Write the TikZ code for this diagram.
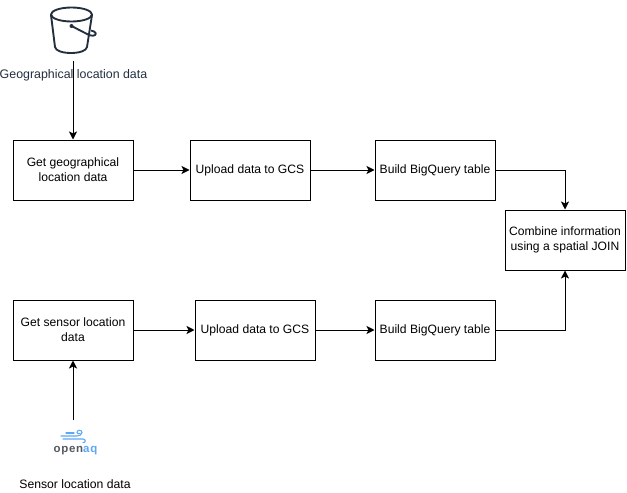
\documentclass[tikz,border=0pt]{standalone}
\usepackage{fontspec}
\setmainfont{Liberation Sans}
\usetikzlibrary{arrows.meta}
\definecolor{bucketcol}{HTML}{232F3E}
\definecolor{aqblue}{HTML}{5CA8F5}
\definecolor{opengrey}{HTML}{55595E}
\begin{document}
\begin{tikzpicture}[x=.75pt,y=-.75pt,line width=.75pt,
	box/.style={draw,minimum width=90pt,minimum height=45pt,inner sep=1pt,align=center,font=\fontsize{9.1}{11.25}\selectfont},
	lab/.style={inner sep=0pt,font=\fontsize{9.15}{11}\selectfont},
	flow/.style={-{Stealth[length=6pt,width=6pt,inset=1.5pt]}},
	pail/.style={bucketcol,line width=1.4pt,line join=round},
	wind/.style={aqblue,line width=.8pt,line cap=round}]
		\useasboundingbox (0,0) rectangle (627,492);
		\node [box] (geoget) at (73,170) {Get geographical\\location data};
		\node [box] (geoup) at (250,170) {Upload data to GCS};
		\node [box] (geobq) at (435,170) {Build BigQuery table};
		\node [box] (join) at (565,240) {Combine information\\using a spatial JOIN};
		\node [box] (senget) at (73,330) {Get sensor location\\data};
		\node [box] (senup) at (255,330) {Upload data to GCS};
		\node [box] (senbq) at (435,330) {Build BigQuery table};
		\node [lab,text=bucketcol,font=\fontsize{9.3}{11}\selectfont] (geolab) at (73.5,75) {Geographical location data};
		\node [lab] (senlab) at (75,484) {Sensor location data};
		\coordinate (geosrc) at (73,61);
		\coordinate (sensrc) at (73,420);
		% bucket
		\draw [pail] (71.5,14.5) ellipse (20.5 and 7);
		\draw [pail] (51,15) -- (55,47) .. controls (56,55) and (86,55) .. (87,47) -- (92,15);
		\draw [pail] (71.5,26) -- (89,35) .. controls (95,37.5) and (98,33.5) .. (94,31.5) -- (91,30.5);
		\fill [bucketcol] (71.5,26) circle (2);
		% logo
		\draw [wind] (61,436) -- (77,436) .. controls (79,436) and (82,435) .. (82,432.5);
		\draw [wind] (82,432.5) .. controls (82,429.5) and (77,429.5) .. (77,432.5) .. controls (77,434) and (79,434) .. (80,433.5);
		\draw [wind] (66,433) -- (74,433);
		\draw [wind] (63,439) -- (83,439) .. controls (86,439) and (86,443) .. (83,442.5);
		\node [inner sep=0pt,font=\fontsize{8.6}{10}\selectfont\bfseries\addfontfeatures{LetterSpace=6}] (logo) at (75.5,450.5) {\textcolor{opengrey}{open}\textcolor{aqblue}{aq}};
		\draw [flow] (geosrc) -- (geoget);
		\draw [flow] (geoget) -- (geoup);
		\draw [flow] (geoup) -- (geobq);
		\draw [flow] (geobq.east) -| (join.north);
		\draw [flow] (sensrc) -- (senget);
		\draw [flow] (senget) -- (senup);
		\draw [flow] (senup) -- (senbq);
		\draw [flow] (senbq.east) -| (join.south);
\end{tikzpicture}
\end{document}
